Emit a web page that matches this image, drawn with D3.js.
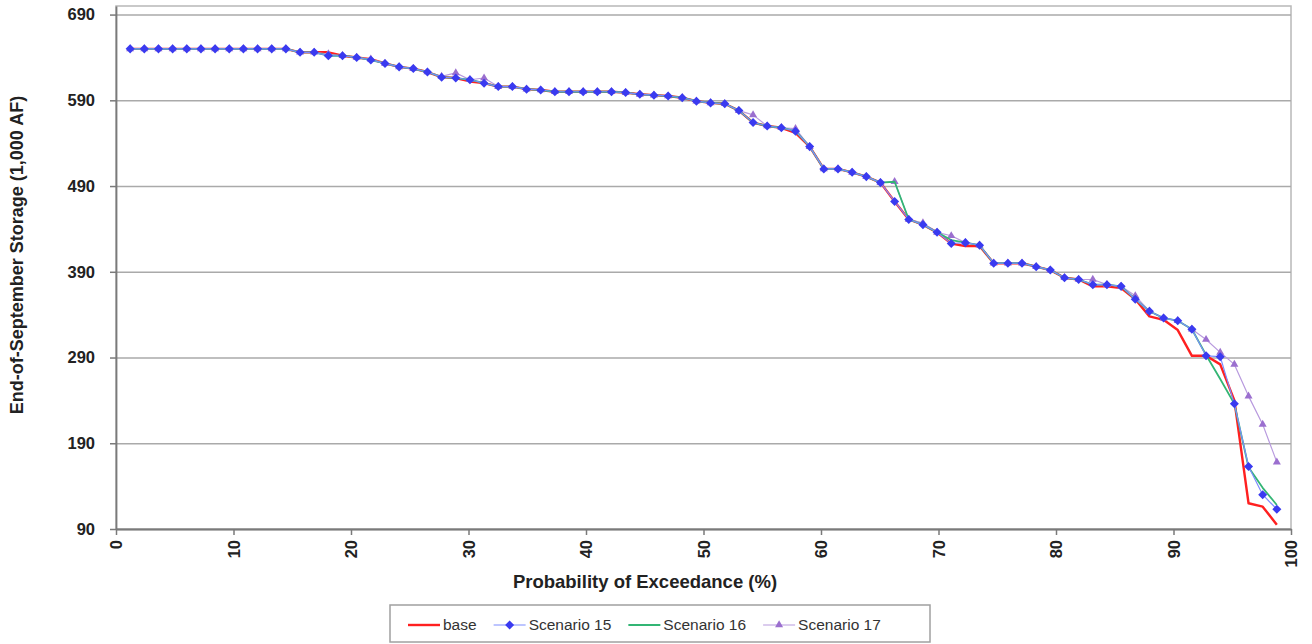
<!DOCTYPE html>
<html>
<head>
<meta charset="utf-8">
<script src="https://cdn.jsdelivr.net/npm/d3@7"></script>
<style>
  body { margin: 0; background: #fff; }
  text { font-family: "Liberation Sans", Arial, sans-serif; }
</style>
</head>
<body>
<div id="chart"></div>
<script>
// 82 sorted years, plotting position i / 83
const nYears = 82;

const base = [650, 650, 650, 650, 650, 650, 650, 650, 650, 650, 650, 650,
  646, 646, 646, 642, 640, 638, 633, 629, 627, 623, 617, 616, 612, 610,
  606, 606, 603, 602, 600, 600, 600, 600, 600, 599, 597, 596, 595, 593,
  589, 587, 586, 578, 564, 560, 558, 552, 536, 510, 510, 506, 501, 494,
  472, 451, 445, 436, 423, 420, 420, 400, 400, 400, 396, 392, 383, 381,
  373, 373, 371, 358, 338, 334, 322, 292, 292, 282, 240, 120, 116, 95];

const scen15 = [650, 650, 650, 650, 650, 650, 650, 650, 650, 650, 650, 650,
  646, 646, 642, 642, 640, 637, 633, 629, 627, 623, 617, 616, 614, 610,
  606, 606, 603, 602, 600, 600, 600, 600, 600, 599, 597, 596, 595, 593,
  589, 587, 586, 578, 564, 560, 558, 554, 536, 510, 510, 506, 501, 494,
  472, 451, 445, 436, 423, 424, 421, 400, 400, 400, 396, 392, 383, 381,
  375, 375, 373, 358, 344, 336, 333, 323, 292, 291, 236, 163, 130, 113];

const scen16 = [650, 650, 650, 650, 650, 650, 650, 650, 650, 650, 650, 650,
  646, 646, 642, 642, 640, 637, 633, 629, 627, 623, 617, 616, 614, 610,
  606, 606, 603, 602, 600, 600, 600, 600, 600, 599, 597, 596, 595, 593,
  589, 587, 586, 578, 564, 560, 558, 554, 536, 510, 510, 506, 501, 494,
  495, 451, 445, 436, 427, 424, 421, 400, 400, 400, 396, 392, 383, 381,
  375, 375, 373, 358, 344, 336, 333, 323, 293, 265, 236, 162, 138, 118];

const scen17 = [650, 650, 650, 650, 650, 650, 650, 650, 650, 650, 650, 650,
  646, 646, 644, 642, 640, 638, 633, 629, 627, 623, 618, 622, 614, 616,
  606, 606, 603, 602, 600, 600, 600, 600, 600, 599, 597, 596, 595, 593,
  589, 587, 586, 578, 573, 560, 558, 557, 536, 510, 510, 506, 501, 494,
  495, 451, 447, 436, 432, 424, 421, 400, 400, 400, 396, 392, 383, 381,
  381, 375, 373, 362, 344, 336, 333, 323, 311, 296, 282, 245, 212, 168];

const seriesNames = ["base", "Scenario 15", "Scenario 16", "Scenario 17"];
const yTicks = [90, 190, 290, 390, 490, 590, 690];
const xTicks = [0, 10, 20, 30, 40, 50, 60, 70, 80, 90, 100];

const width = 1312, height = 644;
const plotL = 116, plotR = 1291, plotT = 6, plotB = 529;

const svg = d3.select("#chart").append("svg")
  .attr("width", width)
  .attr("height", height);

const x = d3.scaleLinear().domain([0, 100]).range([plotL, plotR]);
const y = d3.scaleLinear().domain([90, 700]).range([plotB, plotT]);

const prob = d3.range(1, nYears + 1).map(i => i / (nYears + 1) * 100);
const toPts = vals => vals.map((v, i) => ({p: prob[i], v}));

// plot frame
svg.append("rect")
  .attr("x", plotL).attr("y", plotT)
  .attr("width", plotR - plotL).attr("height", plotB - plotT)
  .attr("fill", "none")
  .attr("stroke", "#b8b8b8")
  .attr("stroke-width", 1.5);

// gridlines
svg.append("g")
  .attr("transform", `translate(${plotL},0)`)
  .call(d3.axisLeft(y).tickValues(yTicks).tickSize(-(plotR - plotL)).tickFormat(""))
  .call(g => g.select(".domain").remove())
  .call(g => g.selectAll("line").attr("stroke", "#aaaaaa").attr("stroke-width", 1.6));

// y axis
svg.append("g")
  .attr("transform", `translate(${plotL},0)`)
  .call(d3.axisLeft(y).tickValues(yTicks).tickSize(6).tickPadding(15).tickSizeOuter(0))
  .call(g => g.select(".domain").attr("stroke", "#7a7a7a").attr("stroke-width", 1.8))
  .call(g => g.selectAll("line").attr("stroke", "#7a7a7a").attr("stroke-width", 1.5))
  .call(g => g.selectAll("text")
    .attr("font-size", 16.5).attr("font-weight", "bold").attr("fill", "#222"));

// x axis
svg.append("g")
  .attr("transform", `translate(0,${plotB})`)
  .call(d3.axisBottom(x).tickValues(xTicks).tickSize(6).tickSizeOuter(0))
  .call(g => g.select(".domain").attr("stroke", "#7a7a7a").attr("stroke-width", 1.8))
  .call(g => g.selectAll("line").attr("stroke", "#7a7a7a").attr("stroke-width", 1.5))
  .call(g => g.selectAll("text")
    .attr("font-size", 16.5).attr("font-weight", "bold").attr("fill", "#222")
    .attr("transform", "rotate(-90)")
    .attr("text-anchor", "end")
    .attr("x", -11).attr("y", 0).attr("dy", "0.35em"));

// axis titles
svg.append("text")
  .attr("x", 645).attr("y", 588)
  .attr("text-anchor", "middle")
  .attr("font-size", 18.5).attr("font-weight", "bold").attr("fill", "#222")
  .text("Probability of Exceedance (%)");

svg.append("text")
  .attr("transform", "translate(23,255) rotate(-90)")
  .attr("text-anchor", "middle")
  .attr("font-size", 18).attr("font-weight", "bold").attr("fill", "#222")
  .text("End-of-September Storage (1,000 AF)");

const line = d3.line().x(d => x(d.p)).y(d => y(d.v));

const styles = {
  "base":        {stroke: "#ff2020", sw: 2.4, marker: null},
  "Scenario 15": {stroke: "#7d8cff", sw: 1.2, marker: "diamond", fill: "#3a3af0"},
  "Scenario 16": {stroke: "#33b574", sw: 1.8, marker: null},
  "Scenario 17": {stroke: "#b89ade", sw: 1.2, marker: "triangle", fill: "#9b6fcf"}
};
const seriesData = {
  "base": base, "Scenario 15": scen15, "Scenario 16": scen16, "Scenario 17": scen17
};
const symbolFor = m => m === "diamond"
  ? d3.symbol(d3.symbolDiamond2, 52)
  : d3.symbol(d3.symbolTriangle, 28);

// draw order: base, 17, 16, 15 on top
["base", "Scenario 17", "Scenario 16", "Scenario 15"].forEach(name => {
  const s = styles[name];
  const pts = toPts(seriesData[name]);
  svg.append("path")
    .datum(pts)
    .attr("fill", "none")
    .attr("stroke", s.stroke)
    .attr("stroke-width", s.sw)
    .attr("stroke-linejoin", "round")
    .attr("d", line);
  if (s.marker) {
    svg.append("g")
      .selectAll("path")
      .data(pts)
      .join("path")
      .attr("transform", d => `translate(${x(d.p)},${y(d.v)})`)
      .attr("fill", s.fill)
      .attr("d", symbolFor(s.marker)());
  }
});

// legend
const legend = svg.append("g");
legend.append("rect")
  .attr("x", 390).attr("y", 605)
  .attr("width", 540).attr("height", 37)
  .attr("fill", "#fff")
  .attr("stroke", "#a0a0a0")
  .attr("stroke-width", 1.5);

let lx = 408;
seriesNames.forEach(name => {
  const s = styles[name];
  const item = legend.append("g").attr("transform", `translate(${lx},625)`);
  item.append("line")
    .attr("x1", 0).attr("x2", 32)
    .attr("stroke", s.stroke).attr("stroke-width", s.sw);
  if (s.marker) {
    item.append("path")
      .attr("transform", "translate(16,0)")
      .attr("fill", s.fill)
      .attr("d", symbolFor(s.marker)());
  }
  const t = item.append("text")
    .attr("x", 35).attr("dy", "0.35em")
    .attr("font-size", 15.5).attr("fill", "#333")
    .text(name);
  lx += 35 + t.node().getComputedTextLength() + 17;
});
</script>
</body>
</html>
